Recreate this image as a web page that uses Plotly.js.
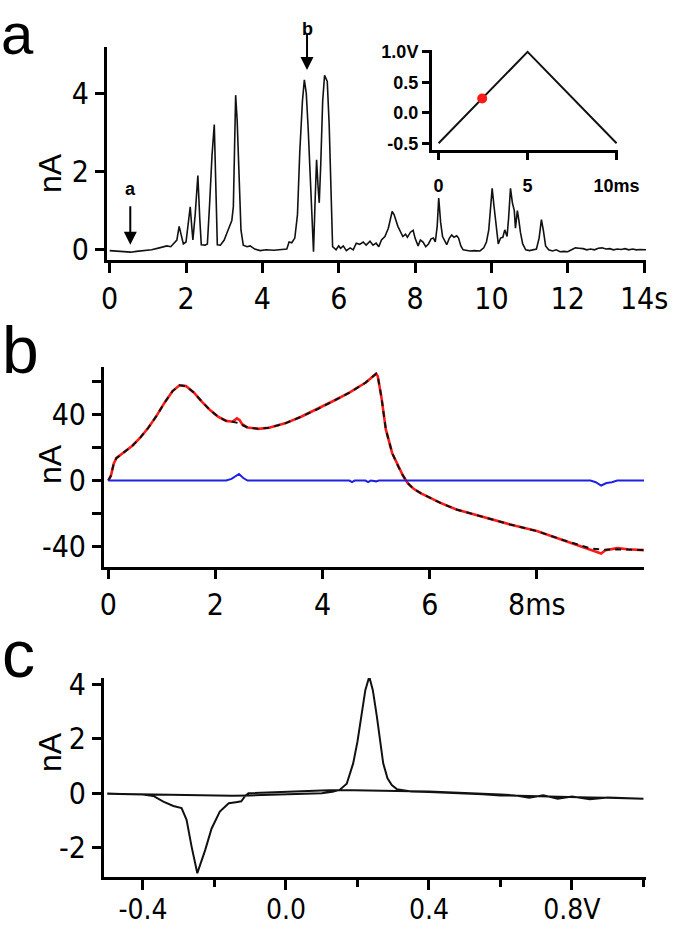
<!DOCTYPE html>
<html>
<head>
<meta charset="utf-8">
<script src="https://cdn.plot.ly/plotly-3.0.1.min.js"></script>
<style>html,body{margin:0;padding:0;background:#fff;}#chart{width:687px;height:931px;}</style>
</head>
<body>
<div id="chart"></div>
<script>
// ---------- Panel a: current vs time ----------
const timeS = [0.0,0.2,0.4,0.55,0.7,0.9,1.1,1.3,1.5,1.6,1.7,1.76,1.82,1.88,1.93,2.0,2.04,2.11,2.15,2.18,2.24,2.31,2.36,2.40,2.50,2.56,2.62,2.68,2.74,2.78,2.82,2.9,3.0,3.1,3.2,3.24,3.27,3.30,3.34,3.38,3.44,3.50,3.6,3.68,3.8,3.94,4.1,4.3,4.5,4.64,4.70,4.77,4.85,4.92,4.98,5.05,5.1,5.15,5.20,5.27,5.31,5.34,5.38,5.42,5.46,5.49,5.53,5.58,5.63,5.70,5.75,5.80,5.84,5.93,6.0,6.05,6.12,6.2,6.3,6.38,6.46,6.55,6.64,6.72,6.82,6.9,6.98,7.05,7.12,7.21,7.3,7.4,7.45,7.55,7.62,7.68,7.75,7.8,7.88,7.95,8.0,8.08,8.14,8.21,8.28,8.35,8.42,8.48,8.53,8.58,8.62,8.67,8.72,8.78,8.83,8.9,8.96,9.02,9.09,9.14,9.2,9.26,9.35,9.44,9.55,9.70,9.8,9.87,9.93,9.98,10.02,10.07,10.12,10.18,10.24,10.3,10.35,10.41,10.45,10.5,10.55,10.6,10.63,10.68,10.72,10.76,10.82,10.9,11.0,11.1,11.18,11.25,11.31,11.36,11.42,11.5,11.6,11.7,11.8,11.9,12.0,12.1,12.2,12.3,12.4,12.5,12.6,12.7,12.8,12.9,13.0,13.1,13.2,13.3,13.4,13.5,13.6,13.7,13.8,13.9,14.05];
const currentNA = [-0.02,-0.03,-0.05,-0.06,-0.04,-0.02,0.0,0.05,0.1,0.08,0.18,0.25,0.6,0.35,0.15,0.2,0.5,1.1,0.6,0.25,0.9,1.9,0.8,0.13,0.12,0.15,1.2,2.4,3.2,1.9,0.13,0.12,0.25,0.5,0.75,1.1,2.8,3.95,3.3,2.0,0.5,0.12,0.08,0.1,0.02,-0.02,0.0,-0.01,0.0,0.02,0.2,0.18,0.3,0.9,2.5,3.8,4.34,4.0,3.1,1.6,0.5,-0.05,1.2,2.3,1.6,1.2,2.2,3.8,4.46,4.3,3.2,1.5,0.08,0.0,0.1,0.04,0.1,-0.02,0.05,0.0,0.17,0.14,0.2,0.12,0.22,0.12,0.17,0.08,0.25,0.34,0.55,0.98,0.9,0.6,0.48,0.34,0.4,0.32,0.45,0.5,0.3,0.1,0.25,0.2,0.08,0.15,0.28,0.3,0.2,0.6,1.32,0.7,0.34,0.2,0.13,0.3,0.38,0.32,0.36,0.3,0.1,0.0,-0.02,-0.03,-0.02,-0.03,0.05,0.2,0.5,1.0,1.57,1.1,0.6,0.15,0.3,0.32,0.51,0.34,0.8,1.57,1.2,1.0,0.55,1.0,0.75,0.45,0.15,0.0,-0.02,0.0,0.02,0.3,0.77,0.5,0.1,0.0,-0.03,0.0,-0.05,-0.04,-0.05,0.0,0.05,0.04,0.03,0.0,0.02,0.0,0.04,0.05,0.02,0.03,0.0,0.02,0.01,0.03,0.0,0.02,0.0,0.01,0.0];
const xTicksA = [0,2,4,6,8,10,12,14];
const xTickTextA = ['0','2','4','6','8','10','12','14s'];
const yTicksA = [0,2,4];

// ---------- Inset: applied waveform ----------
const waveT = [0, 5, 10];
const waveV = [-0.5, 1.0, -0.5];
const dotT = [2.45];
const dotV = [0.235];

// ---------- Panel b: current during one scan ----------
const scanT = [0.0,0.05,0.1,0.15,0.25,0.35,0.45,0.6,0.75,0.9,1.05,1.2,1.33,1.45,1.6,1.75,1.9,2.05,2.2,2.32,2.4,2.45,2.5,2.6,2.8,3.0,3.3,3.6,3.9,4.2,4.5,4.8,5.0,5.03,5.1,5.18,5.3,5.42,5.5,5.59,5.7,5.83,6.0,6.2,6.5,7.0,7.5,8.0,8.5,9.0,9.2,9.28,9.5,9.7,10.0];
const redNA = [0,3,10,13.5,16,18.5,21,26,32,39,47,54,57.5,57,53,47.5,42.5,38.5,36,35.5,37.5,36.5,34,32,31.2,31.8,34.5,38.5,43,48,53,59,64.5,63,50,31,16.5,8,3,-1.6,-5,-7.6,-10.5,-13.5,-17.5,-22,-26.5,-30.5,-36,-41.5,-44,-42,-40.8,-41.5,-42];
const blackNA = [0,3,10,13.5,16,18.5,21,26,32,39,47,54,57.5,57,53,47.5,42.5,38.5,36,35.5,35,34.5,33.5,32,31.2,31.8,34.5,38.5,43,48,53,59,64.5,63,50,31,16.5,8,3,-1.6,-5,-7.6,-10.5,-13.5,-17.5,-22,-26.5,-30.5,-36,-41,-41.5,-41.8,-41.5,-41.8,-42];
const blueT = [0,2.2,2.3,2.44,2.52,2.6,4.5,4.55,4.6,4.8,4.85,4.9,5.0,5.05,9.0,9.1,9.2,9.3,9.4,9.5,10.0];
const blueNA = [0,0,1,4,1.5,0,0,-1,0,0,-1,0,-0.5,0,0,-1,-3,-1.5,-1,0,0];
const xTicksB = [0,2,4,6,8];
const xTickTextB = ['0','2','4','6','8ms'];
const yTicksB = [-40,0,40];
const yTickTextB = ['-40','0','40'];

// ---------- Panel c: cyclic voltammogram ----------
const cvV = [-0.5,-0.45,-0.4,-0.35,-0.3,-0.25,-0.2,-0.15,-0.1,-0.05,0.0,0.05,0.1,0.13,0.15,0.17,0.188,0.2,0.212,0.222,0.233,0.243,0.254,0.263,0.272,0.284,0.296,0.31,0.33,0.35,0.4,0.45,0.5,0.55,0.6,0.65,0.7,0.75,0.8,0.85,0.9,0.95,1.0,
             0.95,0.9,0.85,0.8,0.76,0.72,0.68,0.64,0.6,0.55,0.5,0.45,0.4,0.35,0.3,0.25,0.2,0.15,0.1,0.05,0.0,-0.05,-0.09,-0.105,-0.115,-0.125,-0.14,-0.16,-0.185,-0.208,-0.226,-0.24,-0.248,-0.264,-0.278,-0.292,-0.315,-0.343,-0.371,-0.4,-0.45,-0.5];
const cvNA = [-0.02,-0.03,-0.04,-0.06,-0.08,-0.08,-0.09,-0.09,-0.08,-0.06,-0.05,-0.03,0.0,0.05,0.12,0.35,1.1,1.9,3.0,3.8,4.3,3.8,2.85,1.9,1.1,0.55,0.3,0.15,0.1,0.06,0.04,0.02,0.0,-0.04,-0.08,-0.1,-0.12,-0.13,-0.15,-0.16,-0.17,-0.19,-0.2,
              -0.2,-0.16,-0.22,-0.12,-0.2,-0.08,-0.17,-0.08,-0.05,-0.02,0.02,0.04,0.06,0.07,0.08,0.09,0.1,0.12,0.1,0.08,0.05,0.03,0.02,0.0,-0.12,-0.3,-0.33,-0.37,-0.68,-1.3,-2.1,-2.7,-2.95,-1.97,-0.98,-0.55,-0.47,-0.31,-0.1,-0.05,-0.03,-0.02];
const xTicksC = [-0.4,0.0,0.4,0.8];
const xTickTextC = ['-0.4','0.0','0.4','0.8V'];
const yTicksC = [-2,0,2,4];
const yTickTextC = ['-2','0','2','4'];

// ---------- styles ----------
const NARROW = 'Liberation Sans Narrow, DejaVu Sans Condensed, Arial Narrow, sans-serif';
const SANS = 'Liberation Sans, Arial, sans-serif';
const tickFont = {family: NARROW, size: 30, color: '#000'};
function axisBase(extra) {
  return Object.assign({
    showgrid: false, zeroline: false, showline: true, linecolor: '#000', linewidth: 3,
    ticks: 'outside', tickcolor: '#000', tickwidth: 3, ticklen: 9, tickfont: tickFont,
    fixedrange: true
  }, extra);
}
const W = 687, H = 931;
const dx = (a, b) => [a / W, b / W];
const dy = (top, bottom) => [1 - bottom / H, 1 - top / H];

const traces = [
  {x: timeS, y: currentNA, xaxis: 'x', yaxis: 'y', mode: 'lines', line: {color: '#111', width: 1.6}},
  {x: waveT, y: waveV, xaxis: 'x2', yaxis: 'y2', mode: 'lines', line: {color: '#111', width: 2}},
  {x: dotT, y: dotV, xaxis: 'x2', yaxis: 'y2', mode: 'markers', marker: {color: '#ff1a1a', size: 10}},
  {x: scanT, y: redNA, xaxis: 'x3', yaxis: 'y3', mode: 'lines', line: {color: '#ff1a1a', width: 2.6}},
  {x: scanT, y: blackNA, xaxis: 'x3', yaxis: 'y3', mode: 'lines', line: {color: '#111', width: 2, dash: '6px,5px'}},
  {x: blueT, y: blueNA, xaxis: 'x3', yaxis: 'y3', mode: 'lines', line: {color: '#2020e0', width: 2}},
  {x: cvV, y: cvNA, xaxis: 'x4', yaxis: 'y4', mode: 'lines', line: {color: '#111', width: 2}}
];

const layout = {
  width: W, height: H, margin: {l: 0, r: 0, t: 0, b: 0},
  paper_bgcolor: '#fff', plot_bgcolor: 'rgba(0,0,0,0)', showlegend: false,
  xaxis: axisBase({domain: dx(107, 646), range: [-0.07, 14.05], anchor: 'y', tickvals: xTicksA, ticktext: xTickTextA, ticklen: 10}),
  yaxis: axisBase({domain: dy(47, 260), range: [-0.26, 5.18], anchor: 'x', tickvals: yTicksA}),
  xaxis2: axisBase({domain: dx(432, 618), range: [-0.37, 10.08], anchor: 'y2', tickvals: [0, 5, 10], ticktext: ['0', '5', '10ms'], ticklen: 7,
    tickfont: {family: SANS, size: 18, color: '#000', weight: 'bold'}, ticklabelstandoff: 10}),
  yaxis2: axisBase({domain: dy(50, 150), range: [-0.61, 1.03], anchor: 'x2', tickvals: [-0.5, 0, 0.5, 1.0], ticktext: ['-0.5', '0.0', '0.5', '1.0V'], ticklen: 7,
    tickfont: {family: SANS, size: 18, color: '#000', weight: 'bold'}}),
  xaxis3: axisBase({domain: dx(104, 644), range: [-0.08, 10.0], anchor: 'y3', tickvals: xTicksB, ticktext: xTickTextB}),
  yaxis3: axisBase({domain: dy(366.7, 566.7), range: [-52, 68.7], anchor: 'x3', tickvals: yTicksB, ticktext: yTickTextB,
    minor: {tickvals: [-20, 20, 60], ticks: 'outside', ticklen: 9, tickwidth: 3, tickcolor: '#000'}}),
  xaxis4: axisBase({domain: dx(104, 645.6), range: [-0.509, 1.006], anchor: 'y4', tickvals: xTicksC, ticktext: xTickTextC, ticklen: 10,
    tickfont: {family: NARROW, size: 28, color: '#000'}, ticklabelstandoff: -4,
    minor: {tickvals: [-0.2, 0.2, 0.6, 1.0], ticks: 'outside', ticklen: 7, tickwidth: 3, tickcolor: '#000'}}),
  yaxis4: axisBase({domain: dy(678, 876.7), range: [-3.08, 4.25], anchor: 'x4', tickvals: yTicksC, ticktext: yTickTextC}),
  annotations: [
    // panel letters
    {xref: 'paper', yref: 'paper', x: 0, y: 1, xanchor: 'left', yanchor: 'top', borderpad: 0, text: 'a', showarrow: false, font: {family: SANS, size: 58, color: '#000'}},
    {xref: 'paper', yref: 'paper', x: 0, y: 1 - 350 / H, xanchor: 'left', yanchor: 'middle', text: 'b', showarrow: false, font: {family: SANS, size: 66, color: '#000'}},
    {xref: 'paper', yref: 'paper', x: 0, y: 1 - 654 / H, xanchor: 'left', yanchor: 'middle', text: 'c', showarrow: false, font: {family: SANS, size: 66, color: '#000'}},
    // y titles
    {xref: 'paper', yref: 'paper', x: 30 / W, y: 1 - 151 / H, textangle: -90, text: 'nA', showarrow: false, font: {family: SANS, size: 32, color: '#000'}},
    {xref: 'paper', yref: 'paper', x: 30 / W, y: 1 - 464 / H, textangle: -90, text: 'nA', showarrow: false, font: {family: SANS, size: 32, color: '#000'}},
    {xref: 'paper', yref: 'paper', x: 30 / W, y: 1 - 774 / H, textangle: -90, text: 'nA', showarrow: false, font: {family: SANS, size: 32, color: '#000'}},
    // arrows in panel a
    {xref: 'x', yref: 'y', axref: 'x', ayref: 'y', x: 0.54, y: 0.13, ax: 0.54, ay: 1.15, text: '', showarrow: true, arrowhead: 2, arrowsize: 1.3, arrowwidth: 2, arrowcolor: '#000'},
    {xref: 'x', yref: 'y', x: 0.54, y: 1.55, text: 'a', showarrow: false, font: {family: SANS, size: 18, color: '#000', weight: 'bold'}},
    {xref: 'x', yref: 'y', axref: 'x', ayref: 'y', x: 5.17, y: 4.59, ax: 5.17, ay: 5.56, text: '', showarrow: true, arrowhead: 2, arrowsize: 1.3, arrowwidth: 2, arrowcolor: '#000'},
    {xref: 'paper', yref: 'paper', x: 307 / W, y: 1 - 17 / H, text: 'b', showarrow: false, font: {family: SANS, size: 18, color: '#000', weight: 'bold'}}
  ]
};

Plotly.newPlot('chart', traces, layout, {staticPlot: true, displayModeBar: false});
</script>
</body>
</html>
